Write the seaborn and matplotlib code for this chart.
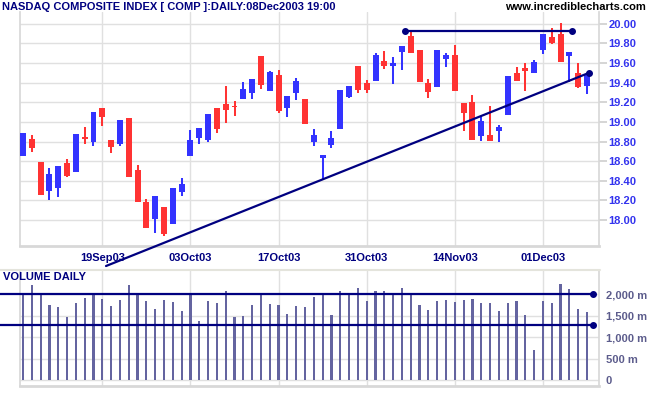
import numpy as np
import pandas as pd
import matplotlib
matplotlib.use("Agg")
import matplotlib.pyplot as plt
import seaborn as sns

# données (NASDAQ COMP, quotidien)
opens = [18.65, 18.83, 18.59, 18.30, 18.33, 18.58, 18.49, 18.85, 18.80, 19.14,
         18.82, 18.77, 19.04, 18.51, 18.18, 18.01, 18.13, 17.96, 18.29, 18.65,
         18.84, 18.82, 19.14, 19.18, 19.16, 19.23, 19.29, 19.67, 19.31, 19.48,
         19.14, 19.29, 19.23, 18.79, 18.63, 18.76, 18.93, 19.25, 19.57, 19.40,
         19.42, 19.62, 19.57, 19.71, 19.88, 19.73, 19.40, 19.36, 19.64, 19.68,
         19.19, 19.20, 18.86, 18.87, 18.91, 19.07, 19.50, 19.55, 19.50, 19.73,
         19.87, 19.90, 19.67, 19.50, 19.37]
highs = [18.89, 18.87, 18.59, 18.53, 18.55, 18.62, 18.88, 18.95, 19.10, 19.14,
         18.82, 19.02, 19.04, 18.56, 18.21, 18.24, 18.13, 18.33, 18.43, 18.92,
         18.94, 19.08, 19.14, 19.37, 19.21, 19.41, 19.44, 19.67, 19.52, 19.53,
         19.26, 19.45, 19.23, 18.93, 18.66, 18.91, 19.33, 19.37, 19.57, 19.43,
         19.70, 19.72, 19.66, 19.77, 19.93, 19.73, 19.44, 19.73, 19.70, 19.78,
         19.19, 19.27, 19.06, 19.16, 18.97, 19.47, 19.56, 19.60, 19.63, 19.90,
         19.96, 20.01, 19.71, 19.60, 19.49]
lows = [18.65, 18.69, 18.25, 18.20, 18.23, 18.44, 18.49, 18.77, 18.75, 18.96,
        18.68, 18.75, 18.44, 18.18, 17.92, 17.87, 17.84, 17.96, 18.24, 18.65,
        18.77, 18.79, 18.89, 18.99, 19.06, 19.23, 19.23, 19.34, 19.31, 19.09,
        19.05, 19.22, 18.98, 18.75, 18.41, 18.73, 18.93, 19.24, 19.29, 19.29,
        19.42, 19.54, 19.39, 19.53, 19.70, 19.41, 19.24, 19.36, 19.56, 19.31,
        18.91, 18.82, 18.81, 18.81, 18.79, 19.07, 19.42, 19.31, 19.50, 19.69,
        19.79, 19.61, 19.41, 19.35, 19.28]
closes = [18.89, 18.73, 18.25, 18.47, 18.55, 18.45, 18.88, 18.83, 19.10, 19.05,
          18.74, 19.02, 18.44, 18.18, 17.92, 18.24, 17.86, 18.33, 18.37, 18.82,
          18.94, 19.08, 18.93, 19.12, 19.15, 19.34, 19.44, 19.38, 19.51, 19.11,
          19.26, 19.42, 18.98, 18.87, 18.66, 18.84, 19.33, 19.37, 19.32, 19.32,
          19.68, 19.57, 19.60, 19.77, 19.70, 19.41, 19.30, 19.73, 19.68, 19.31,
          19.09, 18.82, 19.01, 18.81, 18.95, 19.47, 19.42, 19.52, 19.61, 19.90,
          19.80, 19.61, 19.71, 19.36, 19.49]
# volume en millions
volumes = [2040, 2230, 2020, 1750, 1710, 1470, 1800, 1920, 2020, 1900,
           1730, 1870, 2230, 2035, 1850, 1660, 1870, 1825, 1615, 2020,
           1380, 1850, 1800, 2080, 1475, 1500, 1755, 2020, 1780, 1755,
           1545, 1730, 1710, 1940, 1990, 1520, 2080, 1990, 2150, 1850,
           2080, 2080, 2020, 2150, 1990, 1755, 1640, 1850, 1870, 1825,
           1870, 1895, 1800, 1800, 1615, 1800, 1850, 1520, 700, 1850,
           1800, 2245, 2130, 1660, 1590]

# jours de bourse (Thanksgiving fermé)
jours = pd.bdate_range("2003-09-08", "2003-12-08")
jours = jours[jours != pd.Timestamp("2003-11-27")]
dates_ticks = ["2003-09-19", "2003-10-03", "2003-10-17", "2003-10-31", "2003-11-14", "2003-12-01"]
labels_ticks = ["19Sep03", "03Oct03", "17Oct03", "31Oct03", "14Nov03", "01Dec03"]

# lignes de tendance (indice du jour, prix)
tendance_x = [9.42, 64.23]
tendance_y = [17.531, 19.50]
resistance_x = [43.35, 62.3]
resistance_y = [19.93, 19.93]
vol_niveaux = [2000, 1290]

sns.set_theme(style="white")
plt.rcParams["font.family"] = ["Liberation Sans", "DejaVu Sans"]
plt.rcParams["font.weight"] = "bold"

rouge = "#ff3333"
bleu = "#3333ff"
marine = "#000080"
gris = "#e0e0e0"

df = pd.DataFrame({"jour": jours, "o": opens, "h": highs, "l": lows, "c": closes, "v": volumes})
df["i"] = np.arange(len(df))
couleurs = [rouge if c < o else bleu for o, c in zip(df.o, df.c)]
pos_ticks = [int(np.where(df.jour == pd.Timestamp(d))[0][0]) for d in dates_ticks]

fig = plt.figure(figsize=(6.51, 3.95), dpi=100)
ax = fig.add_axes([20/651, 1-246/395, 579/651, 234/395])
axv = fig.add_axes([20/651, 1-386/395, 579/651, 116/395])

# chandeliers
ax.vlines(df.i, df.l, df.h, colors=couleurs, linewidth=1.45, zorder=3)
corps = np.maximum((df.c - df.o).abs(), 0.012)
ax.bar(df.i, corps, bottom=np.minimum(df.o, df.c), width=0.68, color=couleurs, linewidth=0, zorder=3)

ax.plot(tendance_x, tendance_y, color=marine, lw=1.6, clip_on=False, zorder=4)
ax.plot(tendance_x[1], tendance_y[1], "o", color=marine, ms=4, clip_on=False, zorder=4)
ax.plot(resistance_x, resistance_y, color=marine, lw=1.6, marker="o", ms=4, clip_on=False, zorder=4)

ax.set_xlim(-0.34, 65.36)
ax.set_ylim(17.735, 20.12)
ax.set_yticks(np.arange(18.0, 20.01, 0.2))
ax.set_yticklabels([f"{v:.2f}" for v in np.arange(18.0, 20.01, 0.2)])
ax.yaxis.tick_right()
ax.set_xticks(pos_ticks)
ax.set_xticklabels(labels_ticks)
ax.grid(True, color=gris, lw=1)
ax.tick_params(axis="y", length=6, color="#d0d0d0", pad=1, labelcolor="#3333ee", labelsize=8, right=True)
ax.tick_params(axis="x", length=0, pad=5, labelcolor=marine, labelsize=8)
for s in ["left", "right", "bottom"]:
    ax.spines[s].set_color("#d8d8d8")
ax.spines["bottom"].set_linewidth(2)
ax.spines["top"].set_visible(False)

# volume
sns.barplot(data=df, x="i", y="v", native_scale=True, width=0.25, color="#6464a0",
            saturation=1, linewidth=0, errorbar=None, ax=axv)
for p in axv.patches:
    p.set_antialiased(False)
for niv in vol_niveaux:
    axv.plot([-2.61, 64.68], [niv, niv], color=marine, lw=1.6, clip_on=False, zorder=4)
    axv.plot(64.68, niv, "o", color=marine, ms=4, clip_on=False, zorder=4)
axv.set_xlim(-0.34, 65.36)
axv.set_ylim(-140, 2573)
axv.set_yticks([0, 500, 1000, 1500, 2000])
axv.set_yticklabels(["0", "500 m", "1,000 m", "1,500 m", "2,000 m"])
axv.yaxis.tick_right()
axv.set_xticks(pos_ticks)
axv.set_xticklabels([])
axv.set_xlabel("")
axv.set_ylabel("")
axv.grid(True, color=gris, lw=1)
axv.tick_params(axis="y", length=0, pad=5, labelcolor="#5c5c8c", labelsize=8, right=True)
axv.tick_params(axis="x", length=0)
for s in ["left", "right", "bottom", "top"]:
    axv.spines[s].set_color("#d8d8d8")
axv.spines["bottom"].set_linewidth(2)

fig.add_artist(plt.Line2D([0, 600/651], [1-270/395, 1-270/395], color="#e4e4dc", lw=1.5))

fig.text(2/651, 1-7.5/395, "NASDAQ COMPOSITE INDEX [ COMP ]:DAILY:08Dec2003 19:00",
         ha="left", va="center", color=marine, fontsize=8)
fig.text(646/651, 1-7.5/395, "www.incrediblecharts.com", ha="right", va="center",
         color="black", fontsize=8)
fig.text(3/651, 1-276.5/395, "VOLUME DAILY", ha="left", va="center", color=marine, fontsize=8)

plt.savefig("out.png", dpi=100)
